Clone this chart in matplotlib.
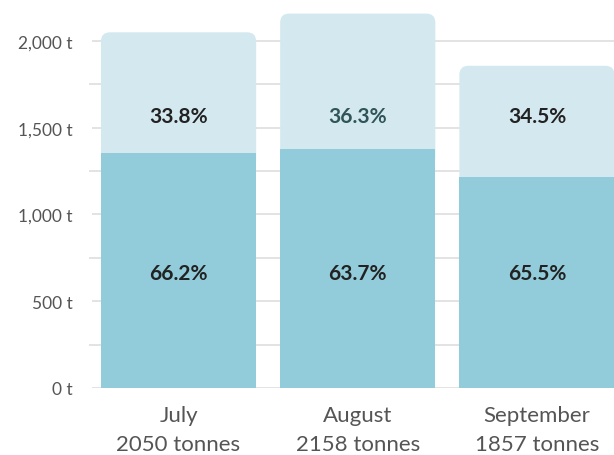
import matplotlib
matplotlib.use("Agg")
import matplotlib.pyplot as plt
from matplotlib.patches import FancyBboxPatch, Rectangle
import numpy as np

plt.rcParams['font.family'] = ['Lato', 'DejaVu Sans']

# data
months = ["July", "August", "September"]
totals = [2050, 2158, 1857]
share_bottom = [66.2, 63.7, 65.5]
share_top = [33.8, 36.3, 34.5]

col_bottom = "#92ccda"
col_top = "#d4e8ef"
grid_col = "#dedede"

W, H = 614, 456
fig = plt.figure(figsize=(W / 100, H / 100), dpi=100)
ax_left, ax_bottom = 92 / W, 67 / H
ax = fig.add_axes([ax_left, ax_bottom, 1 - ax_left, 1 - ax_bottom])

x = np.arange(len(months))
bar_w = 0.866
xlim = (-0.483, 2.43)
ylim = (0, 2242)
ax.set_xlim(*xlim)
ax.set_ylim(*ylim)

# pixels per data unit, for round corners that look circular
px_x = (W - 92) / (xlim[1] - xlim[0])
px_y = (H - 67) / (ylim[1] - ylim[0])
r_px = 9
r_x = r_px / px_x
aspect = (r_px / px_y) / r_x

totals = np.array(totals, dtype=float)
bottom_vals = totals * np.array(share_bottom) / 100

for xi, tot, bv in zip(x, totals, bottom_vals):
    # top segment with rounded corners (bottom corners hidden under lower bar)
    top = FancyBboxPatch((xi - bar_w / 2, bv - 100), bar_w, tot - bv + 100,
                         boxstyle=f"round,pad=0,rounding_size={r_x}",
                         mutation_aspect=aspect, fc=col_top, ec="none",
                         zorder=2)
    ax.add_patch(top)
    ax.add_patch(Rectangle((xi - bar_w / 2, 0), bar_w, bv, fc=col_bottom,
                           ec="none", zorder=3))

# percent labels
for xi, pb, pt in zip(x, share_bottom, share_top):
    tcol = "#2f5558" if pt == 36.3 else "#222222"
    ax.text(xi, 1568, f"{pt}%", ha="center", va="center", fontsize=15,
            fontweight="bold", color=tcol, zorder=4)
    ax.text(xi, 660, f"{pb}%", ha="center", va="center", fontsize=15,
            fontweight="bold", color="#222222", zorder=4)

# axes styling
for s in ax.spines.values():
    s.set_visible(False)
ax.set_yticks([0, 500, 1000, 1500, 2000])
ax.set_yticklabels([f"{v:,} t" for v in [0, 500, 1000, 1500, 2000]])
ax.set_yticks([250, 750, 1250, 1750], minor=True)
ax.grid(axis="y", which="both", color=grid_col, linewidth=1.2, zorder=0)
ax.set_axisbelow(True)
ax.tick_params(axis="y", which="major", length=0, pad=14, labelsize=12.5,
               labelcolor="#555555")
ax.tick_params(axis="y", which="minor", length=2.3, color=grid_col, width=1.2)

ax.set_xticks(x)
ax.set_xticklabels([f"{m}\n{int(t)} tonnes" for m, t in zip(months, totals)],
                   linespacing=1.6)
ax.tick_params(axis="x", length=0, pad=12, labelsize=16, labelcolor="#555555")

plt.savefig("out.png", dpi=100)
